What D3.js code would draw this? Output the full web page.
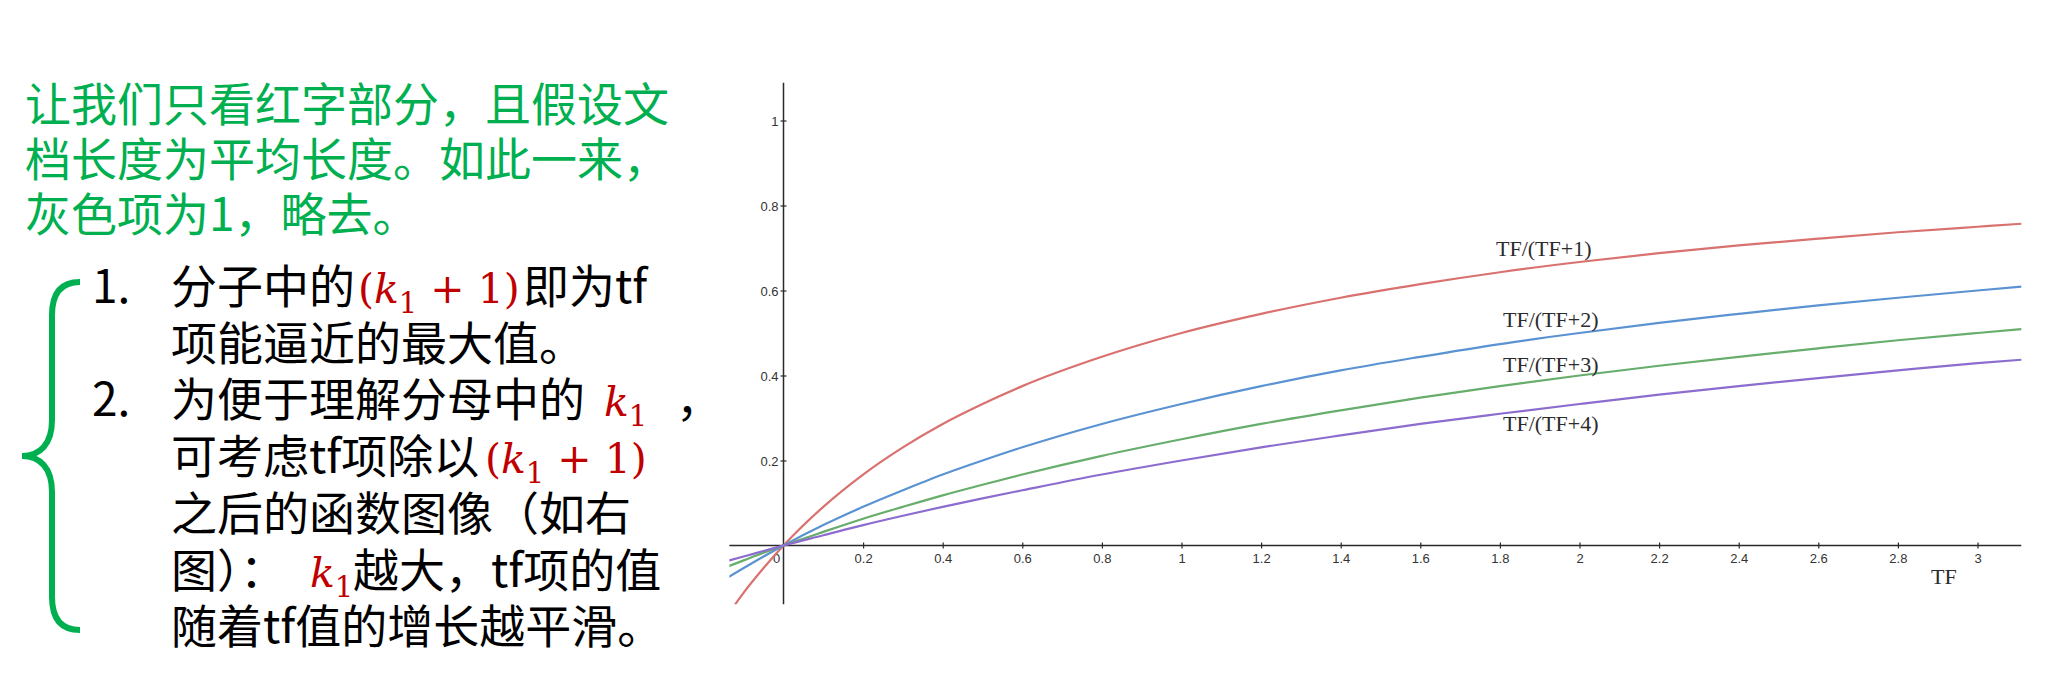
<!DOCTYPE html>
<html>
<head>
<meta charset="utf-8">
<script src="https://cdn.jsdelivr.net/npm/d3@7"></script>
<style>
  html, body { margin: 0; padding: 0; background: #fff; }
  svg { display: block; }
</style>
</head>
<body>
<svg id="chart" width="2046" height="684"></svg>
<script>
// ---------------- data ----------------
const xTicks = [0.2, 0.4, 0.6, 0.8, 1, 1.2, 1.4, 1.6, 1.8, 2, 2.2, 2.4, 2.6, 2.8, 3];
const yTicks = [0.2, 0.4, 0.6, 0.8, 1];
const xTickLabels = ["0.2","0.4","0.6","0.8","1","1.2","1.4","1.6","1.8","2","2.2","2.4","2.6","2.8","3"];
const yTickLabels = ["0.2","0.4","0.6","0.8","1"];

const tfRed = [-0.121, -0.1, -0.05, 0, 0.1, 0.2, 0.3, 0.4, 0.5, 0.6, 0.8, 1.0, 1.2, 1.4, 1.6, 1.8, 2.0, 2.2, 2.4, 2.6, 2.8, 3.0, 3.11];
const tf    = [-0.136, -0.1, -0.05, 0, 0.1, 0.2, 0.3, 0.4, 0.5, 0.6, 0.8, 1.0, 1.2, 1.4, 1.6, 1.8, 2.0, 2.2, 2.4, 2.6, 2.8, 3.0, 3.11];

const k1Values = [-0.138, -0.111, -0.053, 0, 0.091, 0.167, 0.231, 0.286, 0.333, 0.375, 0.444, 0.500, 0.545, 0.583, 0.615, 0.643, 0.667, 0.688, 0.706, 0.722, 0.737, 0.750, 0.757];
const k2Values = [-0.073, -0.053, -0.026, 0, 0.048, 0.091, 0.130, 0.167, 0.200, 0.231, 0.286, 0.333, 0.375, 0.412, 0.444, 0.474, 0.500, 0.524, 0.545, 0.565, 0.583, 0.600, 0.609];
const k3Values = [-0.048, -0.035, -0.017, 0, 0.032, 0.063, 0.091, 0.118, 0.143, 0.167, 0.211, 0.250, 0.286, 0.318, 0.348, 0.375, 0.400, 0.423, 0.444, 0.464, 0.483, 0.500, 0.509];
const k4Values = [-0.035, -0.026, -0.013, 0, 0.024, 0.048, 0.070, 0.091, 0.111, 0.130, 0.167, 0.200, 0.231, 0.259, 0.286, 0.310, 0.333, 0.355, 0.375, 0.394, 0.412, 0.429, 0.437];

const seriesNames = ["TF/(TF+1)", "TF/(TF+2)", "TF/(TF+3)", "TF/(TF+4)"];
const seriesColors = ["#d9716f", "#5b93d2", "#67ad6c", "#8c6dcf"];

const introLines = ["让我们只看红字部分，且假设文", "档长度为平均长度。如此一来，", "灰色项为1，略去。"];

// ---------------- setup ----------------
const svg = d3.select("#chart");
const x = d3.scaleLinear().domain([0, 3]).range([783.5, 1977.5]);
const y = d3.scaleLinear().domain([0, 1]).range([545.5, 120.5]);
const xMin = -0.136, xMax = 3.11, yMin = -0.138, yMax = 1.089;

// ---------------- chart ----------------
const chart = svg.append("g");

svg.append("defs").append("clipPath").attr("id", "plotClip")
  .append("rect")
  .attr("x", x(xMin)).attr("y", y(yMax))
  .attr("width", x(xMax) - x(xMin)).attr("height", y(yMin) - y(yMax));

chart.append("line")
  .attr("x1", x(xMin)).attr("x2", x(xMax))
  .attr("y1", y(0)).attr("y2", y(0))
  .attr("stroke", "#2a2a2a").attr("stroke-width", 1.5);
chart.append("line")
  .attr("x1", x(0)).attr("x2", x(0))
  .attr("y1", y(yMin)).attr("y2", y(yMax))
  .attr("stroke", "#2a2a2a").attr("stroke-width", 1.5);

const xAxis = d3.axisBottom(x).tickValues(xTicks).tickSize(3)
  .tickFormat((d, i) => xTickLabels[i]);
const gx = chart.append("g").attr("transform", `translate(0,${y(0)})`).call(xAxis);
gx.select(".domain").remove();
gx.selectAll(".tick line").attr("y1", -3).attr("y2", 3).attr("stroke", "#2a2a2a").attr("stroke-width", 1.2);
gx.selectAll(".tick text").attr("y", 17.5).attr("dy", 0)
  .attr("font-family", "Liberation Sans, Arial, sans-serif").attr("font-size", 13).attr("fill", "#333");

const yAxis = d3.axisLeft(y).tickValues(yTicks).tickSize(3)
  .tickFormat((d, i) => yTickLabels[i]);
const gy = chart.append("g").attr("transform", `translate(${x(0)},0)`).call(yAxis);
gy.select(".domain").remove();
gy.selectAll(".tick line").attr("x1", -3).attr("x2", 3).attr("stroke", "#2a2a2a").attr("stroke-width", 1.2);
gy.selectAll(".tick text").attr("x", -5).attr("dy", "0.35em")
  .attr("font-family", "Liberation Sans, Arial, sans-serif").attr("font-size", 13).attr("fill", "#333");

chart.append("text").attr("x", x(0) - 7).attr("y", y(0) + 17.5)
  .attr("text-anchor", "middle")
  .attr("font-family", "Liberation Sans, Arial, sans-serif").attr("font-size", 13).attr("fill", "#333")
  .text("0");

const series = [
  { xs: tfRed, ys: k1Values },
  { xs: tf, ys: k2Values },
  { xs: tf, ys: k3Values },
  { xs: tf, ys: k4Values }
];
const line = d3.line().x(d => x(d[0])).y(d => y(d[1])).curve(d3.curveMonotoneX);
const curves = chart.append("g").attr("clip-path", "url(#plotClip)");
series.forEach((s, i) => {
  curves.append("path")
    .attr("d", line(s.xs.map((v, j) => [v, s.ys[j]])))
    .attr("fill", "none")
    .attr("stroke", seriesColors[i])
    .attr("stroke-width", 2.2)
    .attr("stroke-linecap", "round");
});

const labelPos = [[1496, 256], [1503, 326.5], [1503, 371.5], [1503, 430.5]];
seriesNames.forEach((name, i) => {
  chart.append("text")
    .attr("x", labelPos[i][0]).attr("y", labelPos[i][1])
    .attr("font-family", "Liberation Serif, 'Times New Roman', serif")
    .attr("font-size", 22).attr("fill", "#2b2b2b")
    .text(name);
});
chart.append("text")
  .attr("x", 1931).attr("y", 584)
  .attr("font-family", "Liberation Serif, 'Times New Roman', serif")
  .attr("font-size", 22).attr("fill", "#2b2b2b")
  .text("TF");

// ---------------- left text ----------------
const cjk = "'Noto Sans CJK SC', 'Noto Sans', sans-serif";
const green = "#00b050";
const red = "#c00000";

introLines.forEach((t, i) => {
  svg.append("text")
    .attr("x", 25).attr("y", 120.5 + i * 55)
    .attr("font-family", cjk).attr("font-size", 46).attr("fill", green)
    .text(t);
});

svg.append("path")
  .attr("d", "M80,282 C62,282 52,292 52,315 L52,420 C52,444 40,456 22,456 C40,456 52,468 52,492 L52,597 C52,620 62,630 80,630")
  .attr("fill", "none").attr("stroke", green).attr("stroke-width", 6);

const base0 = 303, lh = 56.7;
// each line: list of segments [x, kind, text]; kind: "t" text, "m" math (k1 +1 in parens), "k" math k1
const listLines = [
  [[92, "t", "1."], [171, "t", "分子中的"], [358, "m"], [523, "t", "即为tf"]],
  [[171, "t", "项能逼近的最大值。"]],
  [[92, "t", "2."], [171, "t", "为便于理解分母中的"], [604, "k"], [676, "t", "，"]],
  [[171, "t", "可考虑tf项除以"], [485, "m"]],
  [[171, "t", "之后的函数图像（如右"]],
  [[171, "t", "图）："], [310, "k"], [353, "t", "越大，tf项的值"]],
  [[171, "t", "随着tf值的增长越平滑。"]]
];
listLines.forEach((segs, li) => {
  const by = base0 + li * lh;
  const t = svg.append("text").attr("x", segs[0][0]).attr("y", by)
    .attr("font-family", cjk).attr("font-size", 46).attr("fill", "#000");
  segs.forEach(s => {
    if (s[1] === "t") {
      t.append("tspan").attr("x", s[0]).attr("y", by).text(s[2]);
    } else {
      const mf = "'DejaVu Serif', serif";
      const paren = s[1] === "m";
      if (paren) t.append("tspan").attr("x", s[0]).attr("y", by)
        .attr("font-family", mf).attr("font-size", 41).attr("fill", red).text("(");
      const kt = t.append("tspan").attr("y", by)
        .attr("font-family", mf).attr("font-size", 41).attr("font-style", "italic").attr("fill", red).text("k");
      if (!paren) kt.attr("x", s[0]);
      t.append("tspan").attr("y", by + 10)
        .attr("font-family", mf).attr("font-size", 29).attr("fill", red).text("1");
      if (paren) t.append("tspan").attr("y", by)
        .attr("font-family", mf).attr("font-size", 41).attr("fill", red).text(" + 1)");
    }
  });
});
</script>
</body>
</html>
